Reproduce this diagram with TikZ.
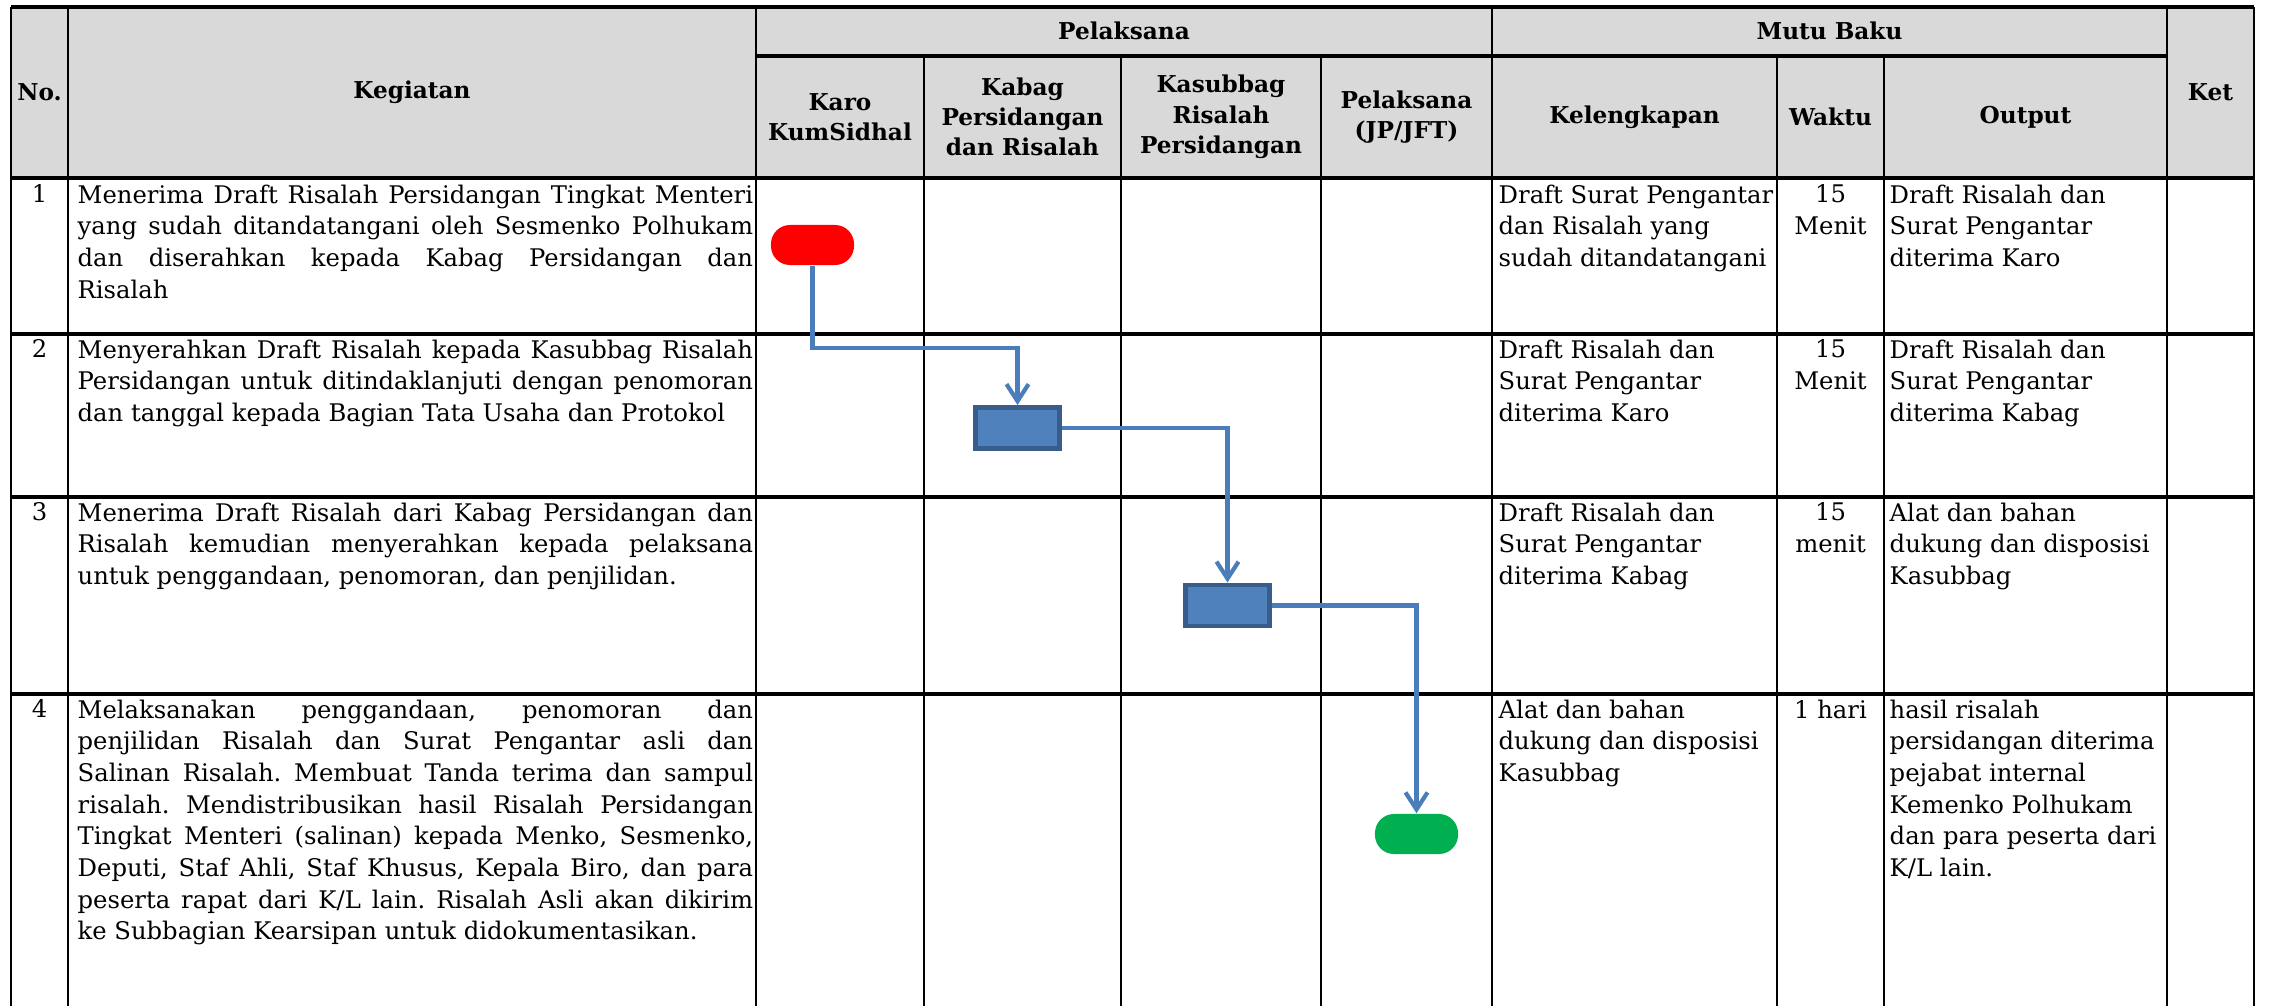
\documentclass[tikz,border=0pt]{standalone}
\usepackage{fontspec}
\setmainfont{DejaVu Serif}
\usepackage{tikz}
\usetikzlibrary{arrows.meta}
\frenchspacing

\definecolor{headgray}{HTML}{D9D9D9}
\definecolor{flowblue}{HTML}{4F81BD}
\definecolor{boxedge}{HTML}{385D8A}
\definecolor{linkblue}{HTML}{4A7EBB}
\definecolor{startred}{HTML}{FF0000}
\definecolor{endgreen}{HTML}{00B050}

\begin{document}
\begin{tikzpicture}[x=0.01cm, y=-0.01cm,
        txt/.style={font=\fontsize{6.9}{9}\selectfont, inner sep=0pt},
        head/.style={txt, font=\fontsize{6.6}{8.6}\selectfont\bfseries, align=center},
        kegtext/.style={txt, anchor=north west, text width=6.75cm, align=justify},
        lefttext/.style={txt, anchor=north west, align=left},
        midtext/.style={txt, anchor=north, align=center},
        hrule/.style={line width=1.0pt},
        vrule/.style={line width=0.7pt},
        terminal/.style={rectangle, rounded corners=0.19cm, minimum width=0.83cm,
                         minimum height=0.40cm, inner sep=0pt},
        process/.style={rectangle, draw=boxedge, line width=1.4pt, fill=flowblue,
                        minimum width=0.84cm, minimum height=0.41cm, inner sep=0pt},
        flow/.style={linkblue, line width=1.2pt, -{Straight Barb[length=1.7mm, width=2.2mm]}}]
    \useasboundingbox (0,0) rectangle (2269,1006);
    % header background
    \fill[headgray] (11,7) rectangle (2254,178);
    % table rules
    \draw[hrule] (11,7) -- (2254,7)
                 (756,56) -- (2167,56)
                 (11,178) -- (2254,178)
                 (11,334) -- (2254,334)
                 (11,497) -- (2254,497)
                 (11,694) -- (2254,694);
    \draw[vrule] (11,7) -- (11,1006)
                 (68,7) -- (68,1006)
                 (756,7) -- (756,1006)
                 (924,56) -- (924,1006)
                 (1121,56) -- (1121,1006)
                 (1321,56) -- (1321,1006)
                 (1492,7) -- (1492,1006)
                 (1777,56) -- (1777,1006)
                 (1884,56) -- (1884,1006)
                 (2167,7) -- (2167,1006)
                 (2254,7) -- (2254,1006);
    % header
    \node[head] (hno)    at (39.5,92)   {No.};
    \node[head] (hkeg)   at (412,92)    {Kegiatan};
    \node[head] (hpel)   at (1124,31)   {Pelaksana};
    \node[head] (hmutu)  at (1829.5,31) {Mutu Baku};
    \node[head] (hket)   at (2210.5,92) {Ket};
    \node[head] (hkaro)  at (840,117)   {Karo\\KumSidhal};
    \node[head] (hkabag) at (1022.5,117) {Kabag\\Persidangan\\dan Risalah};
    \node[head] (hkasub) at (1221,117)  {Kasubbag\\Risalah\\Persidangan};
    \node[head] (hjp)    at (1406.5,117) {Pelaksana\\(JP/JFT)};
    \node[head] (hkel)   at (1634.5,117) {Kelengkapan};
    \node[head] (hwaktu) at (1830.5,117) {Waktu};
    \node[head] (hout)   at (2025.5,117) {Output};
    % row 1
    \node[midtext] (no1) at (39.5,184) {1};
    \node[kegtext] (keg1) at (77,184) {Menerima Draft Risalah Persidangan Tingkat Menteri\linebreak
        yang sudah ditandatangani oleh Sesmenko Polhukam\linebreak
        dan diserahkan kepada Kabag Persidangan dan\linebreak Risalah};
    \node[lefttext] (kel1) at (1498,184) {Draft Surat Pengantar\\dan Risalah yang\\sudah ditandatangani};
    \node[midtext] (wkt1) at (1830.5,184) {15\\Menit};
    \node[lefttext] (out1) at (1889,184) {Draft Risalah dan\\Surat Pengantar\\diterima Karo};
    % row 2
    \node[midtext] (no2) at (39.5,339) {2};
    \node[kegtext] (keg2) at (77,339) {Menyerahkan Draft Risalah kepada Kasubbag Risalah\linebreak
        Persidangan untuk ditindaklanjuti dengan penomoran\linebreak
        dan tanggal kepada Bagian Tata Usaha dan Protokol};
    \node[lefttext] (kel2) at (1498,339) {Draft Risalah dan\\Surat Pengantar\\diterima Karo};
    \node[midtext] (wkt2) at (1830.5,339) {15\\Menit};
    \node[lefttext] (out2) at (1889,339) {Draft Risalah dan\\Surat Pengantar\\diterima Kabag};
    % row 3
    \node[midtext] (no3) at (39.5,502) {3};
    \node[kegtext] (keg3) at (77,502) {Menerima Draft Risalah dari Kabag Persidangan dan\linebreak
        Risalah kemudian menyerahkan kepada pelaksana\linebreak
        untuk penggandaan, penomoran, dan penjilidan.};
    \node[lefttext] (kel3) at (1498,502) {Draft Risalah dan\\Surat Pengantar\\diterima Kabag};
    \node[midtext] (wkt3) at (1830.5,502) {15\\menit};
    \node[lefttext] (out3) at (1889,502) {Alat dan bahan\\dukung dan disposisi\\Kasubbag};
    % row 4
    \node[midtext] (no4) at (39.5,699) {4};
    \node[kegtext] (keg4) at (77,699) {Melaksanakan penggandaan, penomoran dan\linebreak
        penjilidan Risalah dan Surat Pengantar asli dan\linebreak
        Salinan Risalah. Membuat Tanda terima dan sampul\linebreak
        risalah. Mendistribusikan hasil Risalah Persidangan\linebreak
        Tingkat Menteri (salinan) kepada Menko, Sesmenko,\linebreak
        Deputi, Staf Ahli, Staf Khusus, Kepala Biro, dan para\linebreak
        peserta rapat dari K/L lain. Risalah Asli akan dikirim\linebreak
        ke Subbagian Kearsipan untuk didokumentasikan.};
    \node[lefttext] (kel4) at (1498,699) {Alat dan bahan\\dukung dan disposisi\\Kasubbag};
    \node[midtext] (wkt4) at (1830.5,699) {1 hari};
    \node[lefttext] (out4) at (1889,699) {hasil risalah\\persidangan diterima\\pejabat internal\\Kemenko Polhukam\\dan para peserta dari\\K/L lain.};
    % flow
    \node[terminal, fill=startred] (start) at (812.5,245) {};
    \node[process] (kabag) at (1017.5,428) {};
    \node[process] (kasub) at (1227.5,605.5) {};
    \node[terminal, fill=endgreen] (finish) at (1416.5,834) {};
    \draw[flow] (start.south) -- ++(0,82) -| (kabag.north);
    \draw[flow] (kabag.east) -| (kasub.north);
    \draw[flow] (kasub.east) -| (finish.north);
\end{tikzpicture}
\end{document}
